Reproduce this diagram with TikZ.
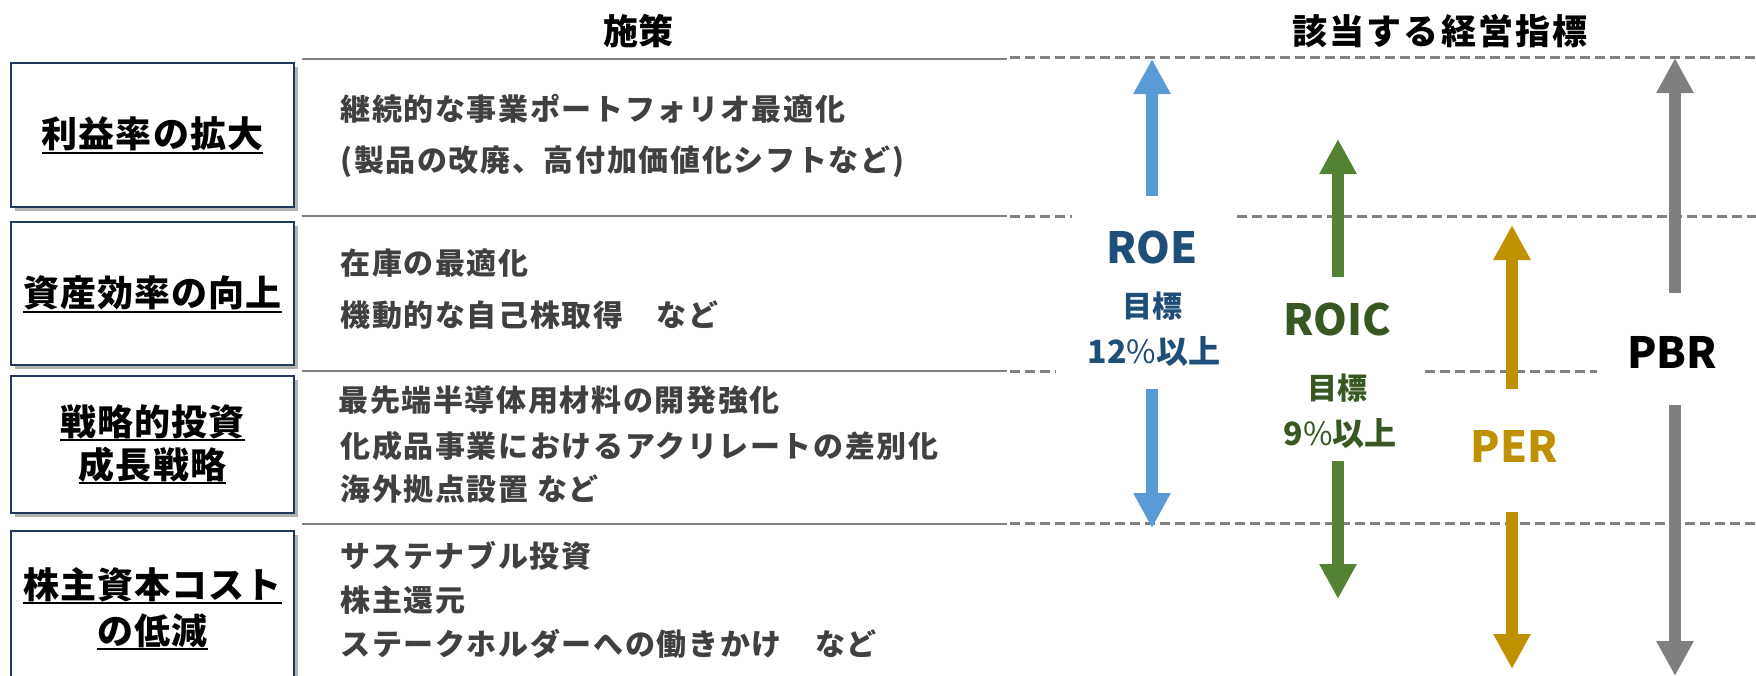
\documentclass[tikz,border=0pt]{standalone}
\usepackage{fontspec}
\setmainfont{Noto Sans CJK JP}
\usetikzlibrary{arrows.meta,shadows}
\definecolor{boxBorder}{HTML}{1F3A5A}
\definecolor{lineGray}{HTML}{808080}
\definecolor{bodyGray}{HTML}{404040}
\definecolor{roeArrow}{HTML}{5B9BD5}
\definecolor{roeText}{HTML}{1F4E79}
\definecolor{roicArrow}{HTML}{548235}
\definecolor{roicText}{HTML}{385723}
\definecolor{perGold}{HTML}{BF9000}
\definecolor{pbrArrow}{HTML}{7F7F7F}
\newsavebox\myulbox
\newcommand\myul[1]{\sbox\myulbox{#1}\rlap{\usebox\myulbox}\rule[-3.2pt]{\wd\myulbox}{1.1pt}}
\tikzset{
  boxstyle/.style={draw=boxBorder, line width=1.4pt, fill=white, minimum width=141.5pt, inner sep=0pt,
    drop shadow={shadow xshift=2pt, shadow yshift=-2pt, fill=black, opacity=0.3}},
  boxtext/.style={anchor=base, inner sep=0pt, font=\fontsize{18pt}{22pt}\selectfont\bfseries\addfontfeatures{LetterSpace=3}},
  body/.style={anchor=base west, inner sep=0pt, text=bodyGray, font=\fontsize{15pt}{17pt}\selectfont\bfseries\addfontfeatures{LetterSpace=5.5}},
  head/.style={anchor=base, inner sep=0pt, font=\fontsize{17.5pt}{20pt}\selectfont\bfseries},
  metric/.style={anchor=base, inner sep=0pt, font=\fontsize{21.5pt}{26pt}\selectfont\bfseries},
  goal/.style={anchor=base, inner sep=0pt, font=\fontsize{15pt}{18pt}\selectfont\bfseries},
  pct/.style={anchor=base, inner sep=0pt, font=\fontsize{16pt}{18pt}\selectfont\bfseries},
  solidrule/.style={draw=lineGray, line width=1.25pt},
  dashrule/.style={draw=lineGray, line width=1.5pt, dash pattern=on 5pt off 2.5pt},
  bigarrow/.style={line width=6pt, -{Triangle[width=17.5pt,length=17.5pt]}},
}
\begin{document}
\begin{tikzpicture}[x=0.5pt,y=-0.5pt]
\useasboundingbox (0,0) rectangle (1756,675);
\clip (0,0) rectangle (1756,675);

% headers
\node[head] (h1) at (638,44) {施策};
\node[head, font=\fontsize{17.5pt}{20pt}\selectfont\bfseries\addfontfeatures{LetterSpace=6}] (h2) at (1440,44) {該当する経営指標};

% solid rules
\coordinate (s1a) at (302,59);  \coordinate (s1b) at (1007,59);
\coordinate (s2a) at (302,216); \coordinate (s2b) at (1007,216);
\coordinate (s3a) at (302,371); \coordinate (s3b) at (1007,371);
\coordinate (s4a) at (302,524); \coordinate (s4b) at (1007,524);
\draw[solidrule] (s1a) -- (s1b);
\draw[solidrule] (s2a) -- (s2b);
\draw[solidrule] (s3a) -- (s3b);
\draw[solidrule] (s4a) -- (s4b);

% dashed rules
\coordinate (d1a) at (1010,57);  \coordinate (d1b) at (1756,57);
\coordinate (d2a) at (1010,216); \coordinate (d2b) at (1072,216);
\coordinate (d2c) at (1237,216); \coordinate (d2d) at (1756,216);
\coordinate (d3a) at (1010,371); \coordinate (d3b) at (1056,371);
\coordinate (d3c) at (1425,371); \coordinate (d3d) at (1597,371);
\coordinate (d4a) at (1010,523); \coordinate (d4b) at (1756,523);
\draw[dashrule] (d1a) -- (d1b);
\draw[dashrule] (d2a) -- (d2b);
\draw[dashrule] (d2c) -- (d2d);
\draw[dashrule] (d3a) -- (d3b);
\draw[dashrule] (d3c) -- (d3d);
\draw[dashrule] (d4a) -- (d4b);

% left boxes
\node[boxstyle, minimum height=72pt]   (b1) at (152.5,135) {};
\node[boxstyle, minimum height=71.5pt] (b2) at (152.5,293.5) {};
\node[boxstyle, minimum height=68.5pt] (b3) at (152.5,444.5) {};
\node[boxstyle, minimum height=76pt]   (b4) at (152.5,607) {};

\node[boxtext] (t1)  at (152.5,147.5) {\myul{利益率の拡大}};
\node[boxtext] (t2)  at (152.5,306.5) {\myul{資産効率の向上}};
\node[boxtext] (t3a) at (152.5,435) {\myul{戦略的投資}};
\node[boxtext] (t3b) at (152.5,478) {\myul{成長戦略}};
\node[boxtext] (t4a) at (152.5,598) {\myul{株主資本コスト}};
\node[boxtext] (t4b) at (152.5,644) {\myul{の低減}};

% measures
\node[body] (m11) at (340,120.5) {継続的な事業ポートフォリオ最適化};
\node[body] (m12) at (340,171.5) {(製品の改廃、高付加価値化シフトなど)};
\node[body] (m21) at (340,274.5) {在庫の最適化};
\node[body] (m22) at (340,326) {機動的な自己株取得　など};
\node[body] (m31) at (338,411.5) {最先端半導体用材料の開発強化};
\node[body] (m32) at (340,457.5) {化成品事業におけるアクリレートの差別化};
\node[body] (m33) at (340,500.5) {海外拠点設置 など};
\node[body] (m41) at (340,567.5) {サステナブル投資};
\node[body] (m42) at (340,611.5) {株主還元};
\node[body] (m43) at (340,655.5) {ステークホルダーへの働きかけ　など};

% metric labels
\node[metric, text=roeText] (roe) at (1152,263) {ROE};
\node[goal, text=roeText] (roeg) at (1152,317) {目標};
\node[pct, text=roeText] (roep) at (1154,363) {12{\mdseries\%}以上};
\node[metric, text=roicText] (roic) at (1337,335) {ROIC};
\node[goal, text=roicText] (roicg) at (1337,399) {目標};
\node[pct, text=roicText] (roicp) at (1340,445) {9{\mdseries\%}以上};
\node[metric, text=perGold] (per) at (1514,462) {PER};
\node[metric, text=black] (pbr) at (1672,368) {PBR};

% arrows
\coordinate (roeU0) at (1152,196); \coordinate (roeU1) at (1152,59);
\coordinate (roeD0) at (1152,389); \coordinate (roeD1) at (1152,528);
\coordinate (roicU0) at (1338,277); \coordinate (roicU1) at (1338,139);
\coordinate (roicD0) at (1338,461); \coordinate (roicD1) at (1338,599);
\coordinate (perU0) at (1512,389); \coordinate (perU1) at (1512,225);
\coordinate (perD0) at (1512,512); \coordinate (perD1) at (1512,669);
\coordinate (pbrU0) at (1675,293); \coordinate (pbrU1) at (1675,58);
\coordinate (pbrD0) at (1675,405); \coordinate (pbrD1) at (1675,676);
\draw[bigarrow, draw=roeArrow, fill=roeArrow] (roeU0) -- (roeU1);
\draw[bigarrow, draw=roeArrow, fill=roeArrow] (roeD0) -- (roeD1);
\draw[bigarrow, draw=roicArrow, fill=roicArrow] (roicU0) -- (roicU1);
\draw[bigarrow, draw=roicArrow, fill=roicArrow] (roicD0) -- (roicD1);
\draw[bigarrow, draw=perGold, fill=perGold] (perU0) -- (perU1);
\draw[bigarrow, draw=perGold, fill=perGold] (perD0) -- (perD1);
\draw[bigarrow, draw=pbrArrow, fill=pbrArrow] (pbrU0) -- (pbrU1);
\draw[bigarrow, draw=pbrArrow, fill=pbrArrow] (pbrD0) -- (pbrD1);
\end{tikzpicture}
\end{document}
